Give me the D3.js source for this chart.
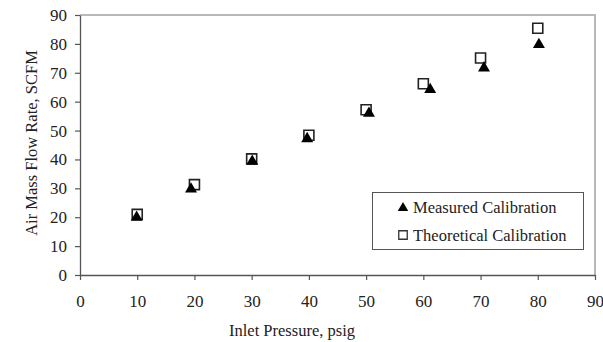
<!DOCTYPE html>
<html>
<head>
<meta charset="utf-8">
<script src="https://cdn.jsdelivr.net/npm/d3@7"></script>
<style>
  html, body { margin: 0; padding: 0; background: #fff; }
  svg { display: block; }
  svg text { font-family: "Liberation Serif", "Times New Roman", serif; }
</style>
</head>
<body>
<svg id="chart" width="603" height="342"></svg>
<script>
// Inlet pressure (psig) and air mass flow rate (SCFM)
const measuredPressure = [9.9, 19.4, 30.1, 39.7, 50.5, 61.2, 70.6, 80.2];
const measuredFlow     = [20.3, 30.1, 39.7, 47.5, 56.3, 64.5, 72.0, 80.1];
const theoreticalPressure = [10, 20, 30, 40, 50, 60, 70, 80];
const theoreticalFlow     = [21.0, 31.3, 40.2, 48.4, 57.2, 66.2, 75.1, 85.4];
const xTicks = [0, 10, 20, 30, 40, 50, 60, 70, 80, 90];
const yTicks = [0, 10, 20, 30, 40, 50, 60, 70, 80, 90];
const seriesNames = ["Measured Calibration", "Theoretical Calibration"];

const svg = d3.select("#chart");
const plot = { left: 80, right: 595, top: 15, bottom: 275 };

const x = d3.scaleLinear().domain([0, 90]).range([plot.left, plot.right]);
const y = d3.scaleLinear().domain([0, 90]).range([plot.bottom, plot.top]);

const serif = "'Liberation Serif', 'Times New Roman', serif";
const textColor = "#222";

// light frame on top and right
svg.append("path")
  .attr("d", `M${plot.left},${plot.top}H${plot.right}V${plot.bottom}`)
  .attr("fill", "none").attr("stroke", "#b8b8b8").attr("stroke-width", 2);

const xAxis = svg.append("g")
  .attr("transform", `translate(0,${plot.bottom})`)
  .call(d3.axisBottom(x).tickValues(xTicks).tickSize(5).tickPadding(15).tickSizeOuter(0));
const yAxis = svg.append("g")
  .attr("transform", `translate(${plot.left},0)`)
  .call(d3.axisLeft(y).tickValues(yTicks).tickSize(5).tickPadding(8).tickSizeOuter(0));

[xAxis, yAxis].forEach(g => {
  g.attr("font-family", null);
  g.select(".domain").attr("stroke", "#555").attr("stroke-width", 1.3);
  g.selectAll(".tick line").attr("stroke", "#555").attr("stroke-width", 1.2);
  g.selectAll(".tick text")
    .style("font-family", serif)
    .attr("font-size", 17).attr("fill", textColor);
});

// axis titles
svg.append("text")
  .attr("x", 292).attr("y", 336)
  .attr("text-anchor", "middle")
  .style("font-family", serif)
  .attr("font-size", 16.5).attr("fill", textColor)
  .text("Inlet Pressure, psig");
svg.append("text")
  .attr("transform", "translate(37,143) rotate(-90)")
  .attr("text-anchor", "middle")
  .style("font-family", serif)
  .attr("font-size", 16.5).attr("fill", textColor)
  .text("Air Mass Flow Rate, SCFM");

// theoretical: open squares
const square = d3.symbol().type(d3.symbolSquare).size(100);
svg.append("g").selectAll("path")
  .data(theoreticalPressure.map((p, i) => [p, theoreticalFlow[i]]))
  .join("path")
  .attr("transform", d => `translate(${x(d[0])},${y(d[1])})`)
  .attr("d", square)
  .attr("fill", "#fff").attr("stroke", "#222").attr("stroke-width", 1.6);

// measured: filled triangles
const tri = d3.symbol().type(d3.symbolTriangle).size(62);
svg.append("g").selectAll("path")
  .data(measuredPressure.map((p, i) => [p, measuredFlow[i]]))
  .join("path")
  .attr("transform", d => `translate(${x(d[0])},${y(d[1]) + 1})`)
  .attr("d", tri)
  .attr("fill", "#000");

// legend
const legend = svg.append("g");
legend.append("rect")
  .attr("x", 372.5).attr("y", 192.5).attr("width", 211).attr("height", 57)
  .attr("fill", "#fff").attr("stroke", "#555").attr("stroke-width", 1);
const legendSymbols = [
  d3.symbol().type(d3.symbolTriangle).size(48),
  d3.symbol().type(d3.symbolSquare).size(72)
];
seriesNames.forEach((name, i) => {
  const cy = 207 + i * 28;
  legend.append("path")
    .attr("transform", `translate(403,${cy + (i === 0 ? 1 : 0)})`)
    .attr("d", legendSymbols[i])
    .attr("fill", i === 0 ? "#000" : "#fff")
    .attr("stroke", i === 0 ? "none" : "#333")
    .attr("stroke-width", 1.3);
  legend.append("text")
    .attr("x", 413).attr("y", cy + 6)
    .style("font-family", serif)
    .attr("font-size", 16.5).attr("fill", textColor)
    .text(name);
});
</script>
</body>
</html>
